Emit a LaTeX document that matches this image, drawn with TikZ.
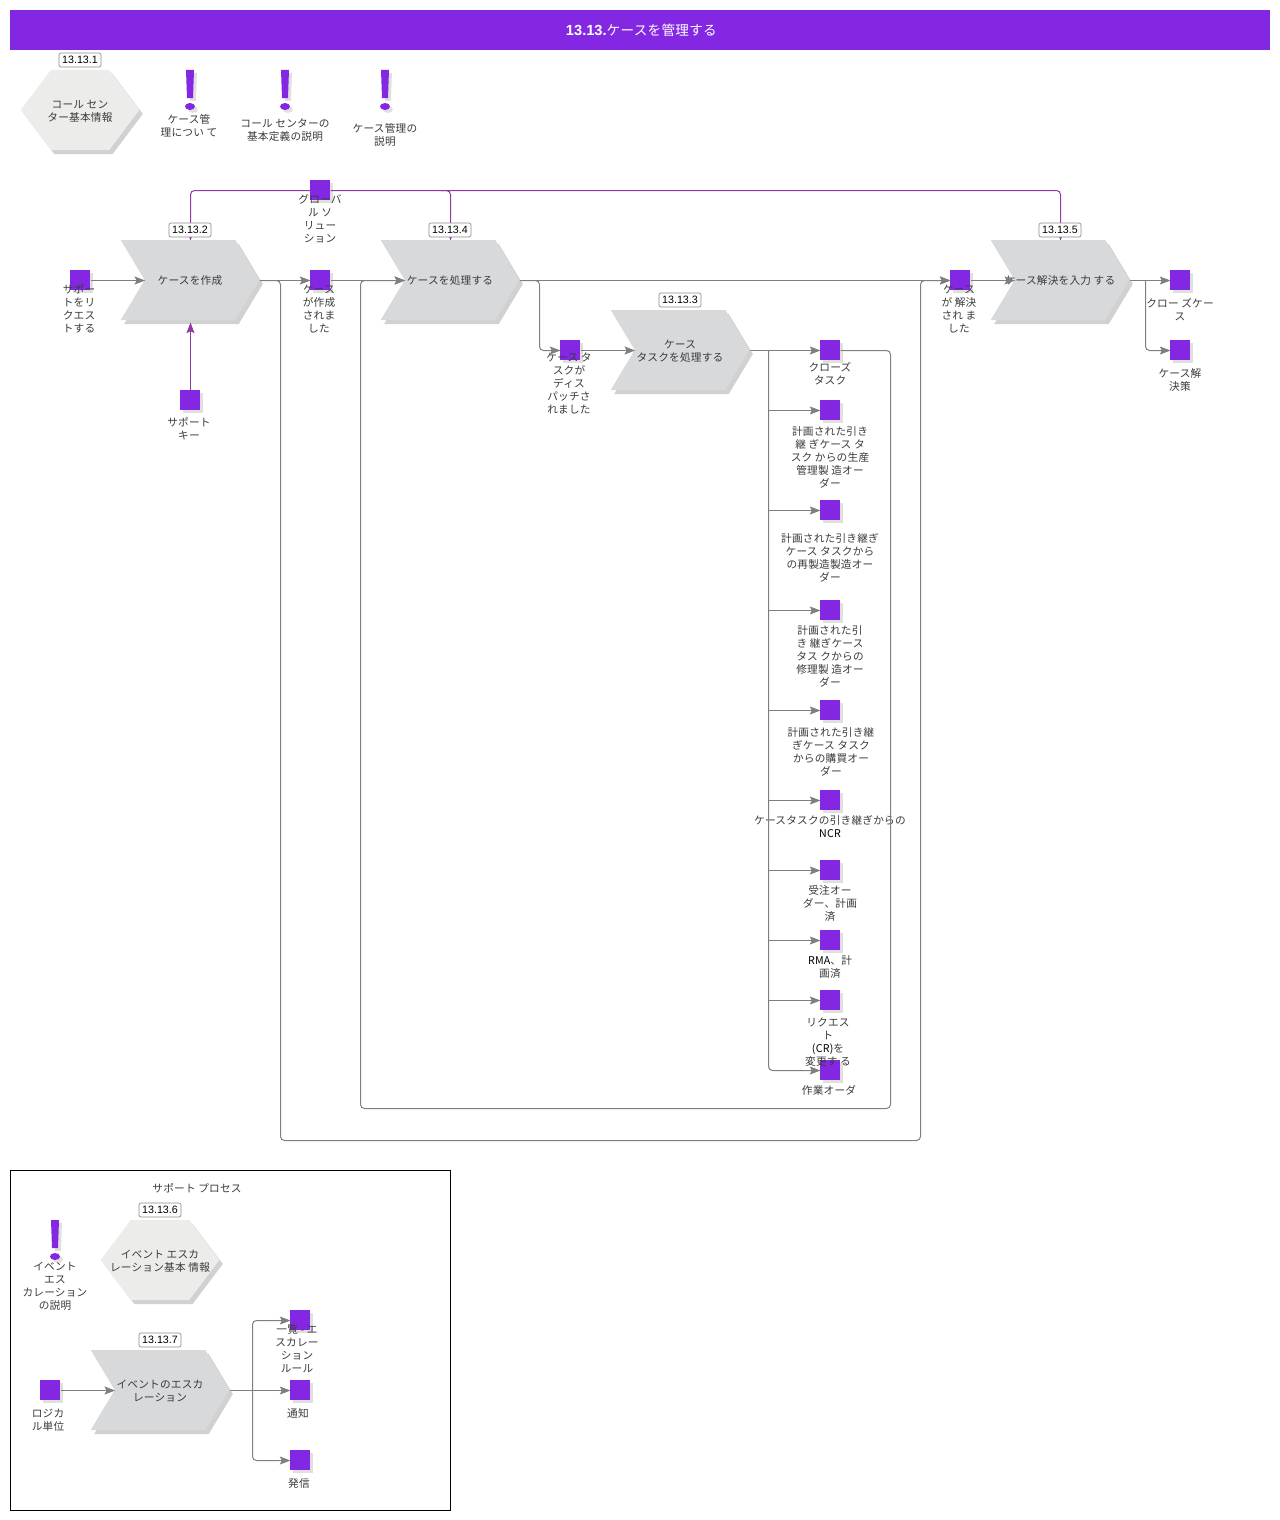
\documentclass[tikz,border=0pt]{standalone}
\usepackage{fontspec}
\setmainfont[LetterSpace=2]{Noto Sans CJK JP}
\newfontfamily\badgefont{Liberation Sans}
\usetikzlibrary{arrows.meta,shapes.symbols,shadows}
\definecolor{purp}{HTML}{8427E2}
\definecolor{hookc}{HTML}{8E3A9E}
\definecolor{linec}{HTML}{7F7F7F}
\definecolor{funcc}{HTML}{D8D9DB}
\definecolor{infoc}{HTML}{ECECEB}
\definecolor{textc}{HTML}{3A3A3A}
\tikzset{
	shad/.style={drop shadow={shadow xshift=2.6pt,shadow yshift=-3pt,opacity=0.4,fill=black!45}},
	smallshad/.style={drop shadow={shadow xshift=2.2pt,shadow yshift=-2.2pt,opacity=0.3,fill=black!40}},
	evt/.style={rectangle,fill=purp,minimum size=15pt,inner sep=0pt,outer sep=0pt,smallshad},
	lbl/.style={anchor=north,yshift=-0.75pt,align=center,inner sep=0pt,text=textc,font=\fontsize{8}{9.75}\selectfont},
	intext/.style={lbl,anchor=center},
	func/.style={signal,signal from=west,signal to=east,signal pointer angle=118,fill=funcc,minimum width=104pt,minimum height=60pt,inner sep=0pt,outer sep=0pt,shad},
	hexa/.style={signal,signal to=east and west,signal from=nowhere,signal pointer angle=106,fill=infoc,minimum width=89pt,minimum height=60pt,inner sep=0pt,outer sep=0pt,shad},
	badge/.style={rectangle,rounded corners=1.5pt,draw=black!45,line width=0.5pt,fill=white,minimum width=31.5pt,minimum height=10.5pt,inner sep=0pt,font=\badgefont\fontsize{8}{8}\selectfont},
	conn/.style={draw=linec,line width=0.75pt,rounded corners=3pt,transform canvas={shift={(0.375pt,-0.375pt)}},-{Stealth[length=8pt,width=6pt,inset=1.5pt,fill=linec]}},
	hook/.style={draw=hookc,line width=0.75pt,rounded corners=3pt,transform canvas={shift={(0.375pt,-0.375pt)}},-{Stealth[length=8pt,width=6pt,inset=1.5pt,fill=hookc]}},
}
% exclamation mark, top centre at #1,#2
\newcommand{\alertmark}[2]{
	\fill[purp,smallshad] (#1-4,#2) -- (#1+4,#2) -- (#1+3,#2+28) -- (#1-3,#2+28) -- cycle;
	\fill[purp,smallshad] (#1,#2+36.5) ellipse (3.75pt and 2.6pt);
}
\begin{document}
\begin{tikzpicture}[x=0.75pt,y=-0.75pt]
	\useasboundingbox (0,0) rectangle (1280,1520);
	% header
	\node[rectangle,fill=purp,minimum width=945pt,minimum height=30pt,inner sep=0pt,text=white,font=\fontsize{10.2}{12}\selectfont] (header) at (640,30) {\hspace{2pt}{\badgefont\bfseries\fontsize{11}{12}\selectfont 13.13.}ケースを管理する};
	% info row
	\node[hexa] (callinfo) at (80,110) {};
	\node[intext] (callinfot) at (80,110) {コール セン\\ター基本情報};
	\alertmark{190}{70}
	\alertmark{285}{70}
	\alertmark{385}{70}
	\node[lbl] (aboutcase) at (189,113) {ケース管\\理につい て};
	\node[lbl] (calldef) at (285,118) {コール センターの\\基本定義の説明};
	\node[lbl] (casedesc) at (385,122) {ケース管理の\\説明};
	% functions
	\node[func] (create) at (190,280) {};
	\node[func] (process) at (450,280) {};
	\node[func] (task) at (680,350) {};
	\node[func] (resolve) at (1060,280) {};
	\node[intext] (createt) at (190,279) {ケースを作成};
	\node[intext] (processt) at (450,279) {ケースを処理する};
	\node[intext] (taskt) at (680,350) {ケース\\タスクを処理する};
	\node[intext] (resolvet) at (1060,279) {ケース解決を入力 する};
	% events
	\node[evt] (request) at (80,280) {};
	\node[evt] (supkey) at (190,400) {};
	\node[evt] (global) at (320,190) {};
	\node[evt] (created) at (320,280) {};
	\node[evt] (dispatched) at (570,350) {};
	\node[evt] (resolved) at (960,280) {};
	\node[evt] (closecase) at (1180,280) {};
	\node[evt] (solution) at (1180,350) {};
	\node[evt] (closetask) at (830,350) {};
	\node[evt] (prod) at (830,410) {};
	\node[evt] (reman) at (830,510) {};
	\node[evt] (repair) at (830,610) {};
	\node[evt] (purch) at (830,710) {};
	\node[evt] (ncr) at (830,800) {};
	\node[evt] (sales) at (830,870) {};
	\node[evt] (rma) at (830,940) {};
	\node[evt] (change) at (830,1000) {};
	\node[evt] (work) at (830,1070) {};
	% event labels
	\node[lbl] (requestl) at (79,283.5) {サポー\\トをリ\\クエス\\トする};
	\node[lbl] (supkeyl) at (189,416) {サポート\\キー};
	\node[lbl] (globall) at (320,193) {グローバ\\ル ソ\\リュー\\ション};
	\node[lbl] (createdl) at (319,283.5) {ケース\\が作成\\されま\\した};
	\node[lbl] (dispatchedl) at (569,352) {ケース タ\\スクが\\ディス\\パッチさ\\れました};
	\node[lbl] (resolvedl) at (959,283.5) {ケース\\が 解決\\され ま\\した};
	\node[lbl] (closecasel) at (1180,297) {クロー ズケー\\ス};
	\node[lbl] (solutionl) at (1180,367) {ケース解\\決策};
	\node[lbl] (closetaskl) at (830,361) {クローズ\\タスク};
	\node[lbl] (prodl) at (830,425) {計画された引き\\継 ぎケース タ\\スク からの生産\\管理製 造オー\\ダー};
	\node[lbl] (remanl) at (830,532) {計画された引き継ぎ\\ケース タスクから\\の再製造製造オー\\ダー};
	\node[lbl] (repairl) at (830,624) {計画された引\\き 継ぎケース\\タス クからの\\修理製 造オー\\ダー};
	\node[lbl] (purchl) at (831,726) {計画された引き継\\ぎケース タスク\\からの購買オー\\ダー};
	\node[lbl] (ncrl) at (830,814) {ケースタスクの引き継ぎからの\\\textcolor{black}{NCR}};
	\node[lbl] (salesl) at (830,884) {受注オー\\ダー、計画\\済};
	\node[lbl] (rmal) at (830,954) {\textcolor{black}{RMA}、計\\画済};
	\node[lbl] (changel) at (828,1017) {リクエス\\ト\\\textcolor{black}{(CR)}を\\変更す る};
	\node[lbl] (workl) at (829,1084) {作業オーダ};
	% process flow
	\coordinate (split) at (768,350);
	\draw[conn] (request.east) -- (create.west);
	\draw[conn] (create.east) -- (created.west);
	\draw[conn] (created.east) -- (process.west);
	\draw[conn] (process.east) -- (resolved.west);
	\draw[conn] (process.east) -- (539,280) -- (539,350) -- (dispatched.west);
	\draw[conn] (dispatched.east) -- (task.west);
	\draw[conn] (task.east) -- (closetask.west);
	\foreach \e in {prod,reman,repair,purch,ncr,sales,rma,change}
		\draw[conn] (split |- \e.west) -- (\e.west);
	\draw[conn] (split) -- (768,1070) -- (work.west);
	\draw[conn] (closetask.east) -- (890,350) -- (890,1108) -- (360,1108) -- (360,280) -- (process.west);
	\draw[conn] (create.east) -- (280,280) -- (280,1140) -- (920,1140) -- (920,280) -- (resolved.west);
	\draw[conn] (resolved.east) -- (resolve.west);
	\draw[conn] (resolve.east) -- (closecase.west);
	\draw[conn] (1145,280) -- (1145,350) -- (solution.west);
	% hooks
	\draw[hook] (supkey.north) -- ([yshift=-1.5pt]create.south);
	\draw[hook] (global.west) -- (190,190) -- (create.north);
	\draw[hook] (440,190) -- (450,190) -- (process.north);
	\draw[hook] (global.east) -- (1060,190) -- (resolve.north);
	% badges
	\node[badge] (b1) at (80,60) {13.13.1};
	\node[badge] (b2) at (190,230) {13.13.2};
	\node[badge] (b4) at (450,230) {13.13.4};
	\node[badge] (b3) at (680,300) {13.13.3};
	\node[badge] (b5) at (1060,230) {13.13.5};
	% support process frame
	\node[rectangle,draw=black,line width=0.75pt,minimum width=330pt,minimum height=255pt,inner sep=0pt] (frame) at (230,1340) {};
	\node[lbl] (framel) at (197,1182) {サポート プロセス};
	\alertmark{55}{1220}
	\node[lbl] (escdesc) at (55,1261) {イベント\\エス\\カレーション\\の説明};
	\node[hexa] (escinfo) at (160,1260) {};
	\node[intext] (escinfot) at (160,1260) {イベント エスカ\\レーション基本 情報};
	\node[func] (esc) at (160,1390) {};
	\node[intext] (esct) at (160,1390) {イベントのエスカ\\レーション};
	\node[evt] (unit) at (50,1390) {};
	\node[evt] (rules) at (300,1320) {};
	\node[evt] (notify) at (300,1390) {};
	\node[evt] (outgo) at (300,1460) {};
	\node[lbl] (unitl) at (48,1408) {ロジカ\\ル単位};
	\node[lbl] (rulesl) at (297,1323.5) {一覧 - エ\\スカレー\\ション\\ルール};
	\node[lbl] (notifyl) at (298,1407) {通知};
	\node[lbl] (outgol) at (299,1477) {発信};
	\draw[conn] (unit.east) -- (esc.west);
	\draw[conn] (esc.east) -- (notify.west);
	\draw[conn] (252,1390) -- (252,1320) -- (rules.west);
	\draw[conn] (252,1390) -- (252,1460) -- (outgo.west);
	\node[badge] (b6) at (160,1210) {13.13.6};
	\node[badge] (b7) at (160,1340) {13.13.7};
\end{tikzpicture}
\end{document}
